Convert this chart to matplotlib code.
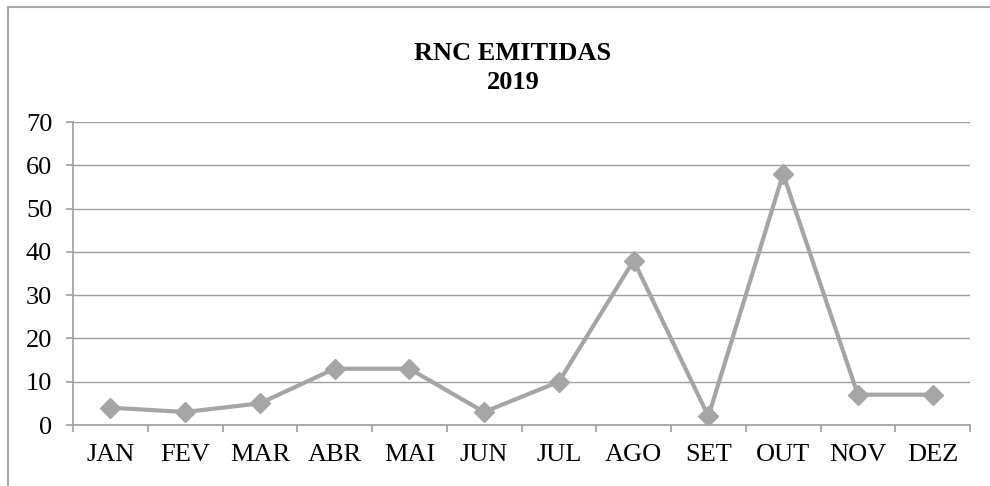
import matplotlib.pyplot as plt
from matplotlib.lines import Line2D

# Dados
meses = ["JAN", "FEV", "MAR", "ABR", "MAI", "JUN",
         "JUL", "AGO", "SET", "OUT", "NOV", "DEZ"]
rnc = [4, 3, 5, 13, 13, 3, 10, 38, 2, 58, 7, 7]
y_ticks = [0, 10, 20, 30, 40, 50, 60, 70]

plt.rcParams["font.family"] = ["Liberation Serif", "DejaVu Serif"]

CINZA = "#A5A5A5"
GRADE = "#9E9E9E"

fig = plt.figure(figsize=(9.9, 4.86), dpi=100)

# moldura do gráfico (só esquerda e topo aparecem)
bx, by = 7.5 / 990, 1 - 7.5 / 486
fig.add_artist(Line2D([bx, bx], [0, by], transform=fig.transFigure,
                      color="#A6A6A6", linewidth=1.5))
fig.add_artist(Line2D([bx, 1], [by, by], transform=fig.transFigure,
                      color="#A6A6A6", linewidth=1.5))

ax = fig.add_axes([73 / 990, 1 - 425 / 486, (970 - 73) / 990, (425 - 122) / 486])

x = list(range(len(meses)))
ax.plot(x, rnc, color=CINZA, linewidth=3, marker="D", markersize=10,
        markerfacecolor=CINZA, markeredgecolor=CINZA, zorder=3)

ax.set_xlim(-0.5, len(meses) - 0.5)
ax.set_ylim(0, 70)
ax.set_yticks(y_ticks)
ax.set_xticks(x)
ax.set_xticklabels(meses)
ax.set_xticks([i - 0.5 for i in range(len(meses) + 1)], minor=True)

ax.grid(axis="y", color=GRADE, linewidth=1)
ax.set_axisbelow(True)
for s in ["top", "right"]:
    ax.spines[s].set_visible(False)
for s in ["left", "bottom"]:
    ax.spines[s].set_color(GRADE)
    ax.spines[s].set_linewidth(1.2)

ax.tick_params(axis="x", which="major", length=0, pad=14, labelsize=19)
ax.tick_params(axis="x", which="minor", length=5, color=GRADE, width=1.2)
ax.tick_params(axis="y", length=5, color=GRADE, width=1.2, pad=10, labelsize=19)

fig.text(513 / 990, 1 - 68 / 486, "RNC EMITIDAS\n2019", ha="center", va="center",
         fontsize=19, fontweight="bold", linespacing=1.3)

fig.savefig("out.png", dpi=100)
